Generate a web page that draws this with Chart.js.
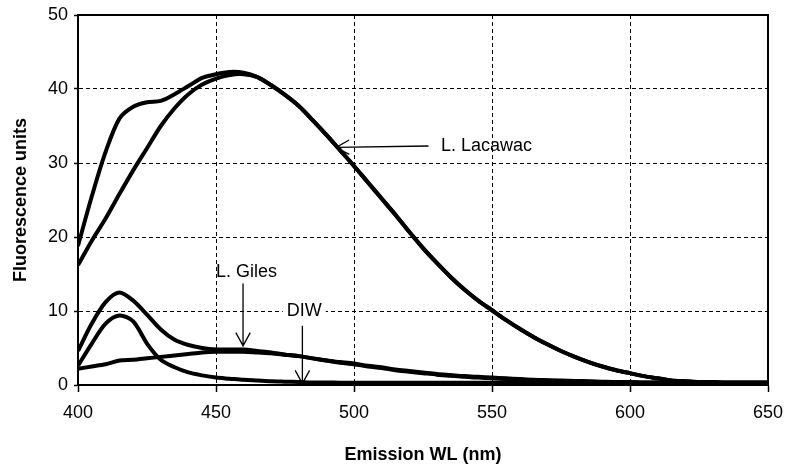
<!DOCTYPE html>
<html>
<head>
<meta charset="utf-8">
<script src="https://cdn.jsdelivr.net/npm/chart.js@4.4.1/dist/chart.umd.min.js"></script>
<style>
  html, body { margin: 0; padding: 0; background: #fff; }
  canvas { display: block; }
</style>
</head>
<body>
<canvas id="grafico" width="786" height="464"></canvas>
<script>
// emission wavelength, 5 nm steps from 400 to 650
const wavelengths = [];
for (let w = 400; w <= 650; w += 5) wavelengths.push(w);

const lacawacA = [18.8, 25.5, 31.5, 36.0, 37.6, 38.2, 38.4, 39.3, 40.4, 41.5, 42.0, 42.3, 42.2, 41.6, 40.5, 39.2, 37.7, 35.8, 33.8, 31.7, 29.6, 27.4, 25.2, 23.0, 20.7, 18.5, 16.5, 14.6, 12.9, 11.4, 10.1, 8.8, 7.6, 6.5, 5.5, 4.6, 3.8, 3.1, 2.5, 2.0, 1.6, 1.2, 0.9, 0.6, 0.5, 0.4, 0.4, 0.3, 0.3, 0.3, 0.3];
const lacawacB = [16.2, 19.5, 22.5, 25.8, 29.0, 32.0, 35.0, 37.4, 39.3, 40.6, 41.4, 41.9, 42.0, 41.6, 40.5, 39.2, 37.7, 35.8, 33.8, 31.7, 29.6, 27.4, 25.2, 23.0, 20.7, 18.5, 16.5, 14.6, 12.9, 11.4, 10.1, 8.8, 7.6, 6.5, 5.5, 4.6, 3.8, 3.1, 2.5, 2.0, 1.6, 1.2, 0.9, 0.6, 0.5, 0.4, 0.4, 0.3, 0.3, 0.3, 0.3];
const gilesA = [4.6, 8.3, 11.2, 12.5, 11.4, 9.5, 7.5, 6.1, 5.4, 5.0, 4.8, 4.8, 4.8, 4.6, 4.4, 4.1, 3.9, 3.6, 3.3, 3.1, 2.9, 2.6, 2.4, 2.1, 1.9, 1.7, 1.5, 1.35, 1.2, 1.1, 1.0, 0.9, 0.8, 0.7, 0.65, 0.6, 0.55, 0.5, 0.45, 0.4, 0.4, 0.35, 0.35, 0.3, 0.3, 0.3, 0.3, 0.3, 0.3, 0.3, 0.3];
const gilesB = [2.2, 2.5, 2.8, 3.3, 3.4, 3.6, 3.8, 4.0, 4.2, 4.4, 4.5, 4.5, 4.5, 4.4, 4.3, 4.1, 3.9, 3.6, 3.3, 3.0, 2.8, 2.5, 2.3, 2.0, 1.8, 1.6, 1.4, 1.25, 1.1, 1.0, 0.9, 0.8, 0.7, 0.65, 0.6, 0.55, 0.5, 0.45, 0.4, 0.4, 0.35, 0.3, 0.3, 0.3, 0.3, 0.3, 0.3, 0.3, 0.3, 0.3, 0.3];
const diw = [2.6, 5.6, 8.3, 9.4, 8.6, 5.6, 3.4, 2.4, 1.7, 1.3, 1.0, 0.85, 0.7, 0.6, 0.5, 0.45, 0.4, 0.35, 0.35, 0.3, 0.3, 0.3, 0.3, 0.3, 0.3, 0.3, 0.3, 0.3, 0.3, 0.3, 0.3, 0.3, 0.3, 0.3, 0.3, 0.3, 0.3, 0.3, 0.3, 0.3, 0.3, 0.3, 0.3, 0.3, 0.3, 0.3, 0.3, 0.3, 0.3, 0.3, 0.3];

const xTicks = [400, 450, 500, 550, 600, 650];
const yTicks = [0, 10, 20, 30, 40, 50];

// labels with arrows, in data units: [text, textX, textY, arrowFromX, arrowFromY, arrowToX, arrowToY]
const rotulos = [
    ['L. Lacawac', 531.5, 32.3, 527, 32.3, 493.5, 32.1],
    ['L. Giles', 450, 15.3, 459.8, 13.7, 459.8, 5.3],
    ['DIW', 482, 10, 481.3, 8.0, 481.3, 0.2]
];

const serie = (data) => ({
    data: wavelengths.map((w, i) => ({ x: w, y: data[i] })),
    borderColor: '#000',
    borderWidth: 4,
    pointRadius: 0,
    fill: false,
    tension: 0.3
});

const fonte = 'Liberation Sans, Arial, sans-serif';
Chart.defaults.font.family = fonte;
Chart.defaults.color = '#000';

const anotacoes = {
    id: 'anotacoes',
    afterDatasetsDraw(chart) {
        const { ctx, scales: { x, y } } = chart;
        ctx.save();
        ctx.font = '18px ' + fonte;
        ctx.textBaseline = 'middle';
        ctx.strokeStyle = '#000';
        ctx.fillStyle = '#000';
        ctx.lineWidth = 1.3;
        rotulos.forEach(([txt, tx, ty, fx, fy, ax, ay]) => {
            const px = x.getPixelForValue(tx), py = y.getPixelForValue(ty);
            if (txt === 'DIW') {
                const w = ctx.measureText(txt).width;
                ctx.fillStyle = '#fff';
                ctx.fillRect(px - w / 2 - 4, py - 9, w + 8, 18);
                ctx.fillStyle = '#000';
                ctx.textAlign = 'center';
            } else {
                ctx.textAlign = 'left';
            }
            ctx.fillText(txt, px, py);

            const x1 = x.getPixelForValue(fx), y1 = y.getPixelForValue(fy);
            const x2 = x.getPixelForValue(ax), y2 = y.getPixelForValue(ay);
            ctx.beginPath();
            ctx.moveTo(x1, y1);
            ctx.lineTo(x2, y2);
            const ang = Math.atan2(y2 - y1, x2 - x1);
            const len = 15, abre = 0.5;
            ctx.moveTo(x2 - len * Math.cos(ang - abre), y2 - len * Math.sin(ang - abre));
            ctx.lineTo(x2, y2);
            ctx.lineTo(x2 - len * Math.cos(ang + abre), y2 - len * Math.sin(ang + abre));
            ctx.stroke();
        });
        ctx.restore();
    },
    afterDraw(chart) {
        const { ctx, chartArea: a } = chart;
        ctx.save();
        ctx.strokeStyle = '#000';
        ctx.lineWidth = 2;
        ctx.beginPath();
        ctx.moveTo(a.left, a.top);
        ctx.lineTo(a.right, a.top);
        ctx.lineTo(a.right, a.bottom);
        ctx.stroke();
        ctx.restore();
    }
};

new Chart(document.getElementById('grafico').getContext('2d'), {
    type: 'line',
    data: {
        datasets: [serie(lacawacA), serie(lacawacB), serie(gilesA), serie(gilesB), serie(diw)]
    },
    options: {
        responsive: false,
        animation: false,
        layout: { padding: { top: 15, right: 18, left: 0, bottom: 0 } },
        plugins: { legend: { display: false }, tooltip: { enabled: false } },
        scales: {
            x: {
                type: 'linear',
                min: 400,
                max: 650,
                afterBuildTicks: (s) => { s.ticks = xTicks.map(v => ({ value: v })); },
                afterFit: (s) => { s.height = 79; s.paddingLeft = 0; s.paddingRight = 0; },
                grid: { color: '#000', lineWidth: 1, tickLength: 7, tickColor: '#000', tickWidth: 1.5 },
                border: { color: '#000', width: 2, dash: [4, 3] },
                ticks: { font: { size: 18 }, padding: 10, maxRotation: 0 },
                title: { display: true, text: 'Emission WL (nm)', font: { size: 18, weight: 'bold', lineHeight: 1 }, padding: { top: 0, bottom: 0 } }
            },
            y: {
                min: 0,
                max: 50,
                afterBuildTicks: (s) => { s.ticks = yTicks.map(v => ({ value: v })); },
                afterFit: (s) => { s.width = 78; s.paddingTop = 0; s.paddingBottom = 0; },
                grid: { color: '#000', lineWidth: 1, tickLength: 4, tickColor: '#000', tickWidth: 1.5 },
                border: { color: '#000', width: 2, dash: [4, 3] },
                ticks: { font: { size: 18 }, padding: 6 },
                title: { display: true, text: 'Fluorescence units', font: { size: 18, weight: 'bold', lineHeight: 1 }, padding: { top: 12, bottom: 0 } }
            }
        }
    },
    plugins: [anotacoes]
});
</script>
</body>
</html>
